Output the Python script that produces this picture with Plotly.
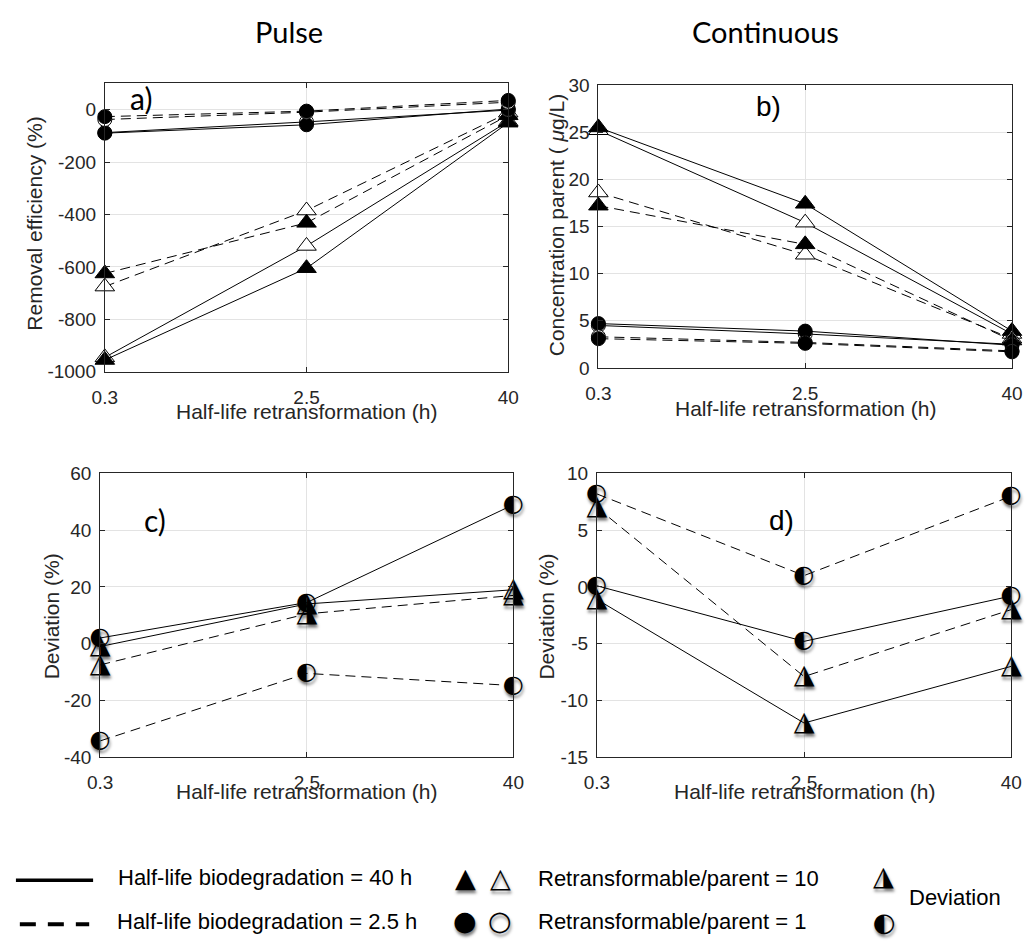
import plotly.graph_objects as go

W, H = 1035, 947

# Half-life of retransformation (h), shown as equally spaced categories
x_labels = ["0.3", "2.5", "40"]
x_pos = [0, 1, 2]

# a) Pulse: removal efficiency (%)
a_bio40_r10 = [-955, -605, -50]
a_bio40_r10_open = [-945, -520, -45]
a_bio25_r10 = [-625, -432, -22]
a_bio25_r10_open = [-675, -385, -12]
a_bio40_r1 = [-90, -58, 2]
a_bio40_r1_open = [-88, -47, -2]
a_bio25_r1 = [-27, -6, 35]
a_bio25_r1_open = [-38, -10, 28]

# b) Continuous: concentration parent (ug/L)
b_bio40_r10 = [25.5, 17.4, 3.9]
b_bio40_r10_open = [25.2, 15.4, 3.6]
b_bio25_r10 = [17.2, 13.1, 2.9]
b_bio25_r10_open = [18.6, 12.0, 3.1]
b_bio40_r1 = [4.7, 3.9, 2.4]
b_bio40_r1_open = [4.5, 3.6, 2.5]
b_bio25_r1 = [3.1, 2.6, 1.7]
b_bio25_r1_open = [3.3, 2.7, 1.8]

# c) Pulse: deviation (%)
c_bio40_r10 = [-1.0, 14.0, 19.0]
c_bio40_r1 = [2.0, 14.5, 49.0]
c_bio25_r10 = [-7.5, 10.5, 17.0]
c_bio25_r1 = [-34.3, -10.5, -14.8]

# d) Continuous: deviation (%)
d_bio40_r10 = [-1.1, -12.0, -7.0]
d_bio40_r1 = [0.1, -4.8, -0.8]
d_bio25_r10 = [7.0, -7.9, -2.0]
d_bio25_r1 = [8.2, 1.0, 8.0]

# y tick values and their labels (plain hyphen for negatives)
a_ticks = [-1000, -800, -600, -400, -200, 0]
a_tick_labels = ["-1000", "-800", "-600", "-400", "-200", "0"]
b_ticks = [0, 5, 10, 15, 20, 25, 30]
b_tick_labels = ["0", "5", "10", "15", "20", "25", "30"]
c_ticks = [-40, -20, 0, 20, 40, 60]
c_tick_labels = ["-40", "-20", "0", "20", "40", "60"]
d_ticks = [-15, -10, -5, 0, 5, 10]
d_tick_labels = ["-15", "-10", "-5", "0", "5", "10"]

AX = "#262626"
GRID = "#e3e3e3"
SANS = "Liberation Sans, Arial, Helvetica, sans-serif"
HUM = "Lato, Open Sans, sans-serif"
SYM = "DejaVu Sans"
DASH = "10px,6px"
SHADOW = "1px 3px 3px rgba(0,0,0,0.55)"

TRI_HALF = "\u25EE"
CIR_HALF = "\u25D0"
GLYPH_SIZE = {TRI_HALF: 27, CIR_HALF: 24}

fig = go.Figure()


def px_x(v):
    return v / W


def px_y(v):
    return 1 - v / H


domains = {
    1: ([94 / W, 507 / W], [px_y(370), px_y(75)]),
    2: ([599.3 / W, 1022.7 / W], [px_y(366), px_y(76.7)]),
    3: ([89.3 / W, 512.3 / W], [px_y(764), px_y(474)]),
    4: ([597.7 / W, 1022 / W], [px_y(764), px_y(474)]),
}
y_ranges = {1: [-1000, 100], 2: [0, 30], 3: [-40, 60], 4: [-15, 10]}
y_ticks = {1: (a_ticks, a_tick_labels), 2: (b_ticks, b_tick_labels),
           3: (c_ticks, c_tick_labels), 4: (d_ticks, d_tick_labels)}


def add_marked(panel, ys, dash, symbol, filled):
    xa = "x" if panel == 1 else f"x{panel}"
    ya = "y" if panel == 1 else f"y{panel}"
    fig.add_trace(go.Scatter(
        x=x_pos, y=ys, xaxis=xa, yaxis=ya, mode="lines+markers",
        line=dict(color="black", width=1, dash=dash),
        marker=dict(symbol=symbol, size=17 if symbol == "triangle-up" else 14,
                    color="black" if filled else "white",
                    line=dict(color="black", width=1)),
        cliponaxis=False, showlegend=False, hoverinfo="skip"))


def add_half(panel, ys, dash, glyph):
    xa = f"x{panel}"
    ya = f"y{panel}"
    fig.add_trace(go.Scatter(
        x=x_pos, y=ys, xaxis=xa, yaxis=ya, mode="lines",
        line=dict(color="black", width=1, dash=dash),
        cliponaxis=False, showlegend=False, hoverinfo="skip"))
    fig.add_trace(go.Scatter(
        x=x_pos, y=ys, xaxis=xa, yaxis=ya, mode="text",
        text=[glyph] * len(ys), textposition="middle center",
        textfont=dict(family=SYM, size=GLYPH_SIZE[glyph], color="black", shadow=SHADOW),
        cliponaxis=False, showlegend=False, hoverinfo="skip"))


# a)
add_marked(1, a_bio40_r10_open, "solid", "triangle-up", False)
add_marked(1, a_bio40_r10, "solid", "triangle-up", True)
add_marked(1, a_bio25_r10_open, DASH, "triangle-up", False)
add_marked(1, a_bio25_r10, DASH, "triangle-up", True)
add_marked(1, a_bio40_r1_open, "solid", "circle", False)
add_marked(1, a_bio40_r1, "solid", "circle", True)
add_marked(1, a_bio25_r1_open, DASH, "circle", False)
add_marked(1, a_bio25_r1, DASH, "circle", True)

# b)
add_marked(2, b_bio40_r10_open, "solid", "triangle-up", False)
add_marked(2, b_bio40_r10, "solid", "triangle-up", True)
add_marked(2, b_bio25_r10_open, DASH, "triangle-up", False)
add_marked(2, b_bio25_r10, DASH, "triangle-up", True)
add_marked(2, b_bio40_r1_open, "solid", "circle", False)
add_marked(2, b_bio40_r1, "solid", "circle", True)
add_marked(2, b_bio25_r1_open, DASH, "circle", False)
add_marked(2, b_bio25_r1, DASH, "circle", True)

# c)
add_half(3, c_bio25_r1, DASH, CIR_HALF)
add_half(3, c_bio25_r10, DASH, TRI_HALF)
add_half(3, c_bio40_r10, "solid", TRI_HALF)
add_half(3, c_bio40_r1, "solid", CIR_HALF)

# d)
add_half(4, d_bio40_r10, "solid", TRI_HALF)
add_half(4, d_bio25_r10, DASH, TRI_HALF)
add_half(4, d_bio40_r1, "solid", CIR_HALF)
add_half(4, d_bio25_r1, DASH, CIR_HALF)

axis_common = dict(
    showline=True, linecolor=AX, linewidth=1, mirror="ticks",
    ticks="inside", ticklen=5, tickcolor=AX, tickwidth=1,
    showgrid=True, gridcolor=GRID, gridwidth=1, zeroline=False,
    tickfont=dict(family=SANS, size=19, color=AX),
)

layout = dict(
    width=W, height=H, margin=dict(l=0, r=0, t=0, b=0),
    paper_bgcolor="white", plot_bgcolor="white", autosize=False,
)
for p in range(1, 5):
    sx = "" if p == 1 else str(p)
    xd, yd = domains[p]
    tv, tt = y_ticks[p]
    layout[f"xaxis{sx}"] = dict(
        axis_common, domain=xd, anchor=f"y{sx}", range=[0, 2],
        tickvals=x_pos, ticktext=x_labels, ticklabelstandoff=8)
    layout[f"yaxis{sx}"] = dict(
        axis_common, domain=yd, anchor=f"x{sx}", range=y_ranges[p],
        tickvals=tv, ticktext=tt, ticklabelstandoff=4)
fig.update_layout(**layout)

ann = []


def text_at(x, y, s, size, family=SANS, angle=0, xanchor="center", color=AX, shadow=None):
    f = dict(family=family, size=size, color=color)
    if shadow:
        f["shadow"] = shadow
    ann.append(dict(x=px_x(x), y=px_y(y), xref="paper", yref="paper", text=s,
                    showarrow=False, textangle=angle, xanchor=xanchor,
                    yanchor="middle", font=f))


# column titles
text_at(283, 22, "Pulse", 29, HUM, color="black")
text_at(770, 22, "Continuous", 29, HUM, color="black")

# panel tags
text_at(131, 90, "a)", 30, HUM, color="black")
text_at(773, 99, "b)", 28, SANS, color="black")
text_at(145, 522, "c)", 30, HUM, color="black")
text_at(787, 522, "d)", 28, SANS, color="black")

# axis titles
text_at(300, 411, "Half-life retransformation (h)", 21)
text_at(811, 408, "Half-life retransformation (h)", 21)
text_at(300, 799, "Half-life retransformation (h)", 21)
text_at(810, 799, "Half-life retransformation (h)", 21)
text_at(22, 218, "Removal efficiency (%)", 21, angle=-90)
text_at(556, 220, "Concentration parent ( <i>\u03bc</i>g/L)", 21, angle=-90)
text_at(39, 620, "Deviation (%)", 21, angle=-90)
text_at(546, 620, "Deviation (%)", 21, angle=-90)

# key
LEG_SHADOW = "1px 3px 3px rgba(0,0,0,0.5)"
text_at(105, 887, "Half-life biodegradation = 40 h", 22, xanchor="left", color="black")
text_at(104, 932, "Half-life biodegradation = 2.5 h", 22, xanchor="left", color="black")
text_at(535, 888, "Retransformable/parent = 10", 22, xanchor="left", color="black")
text_at(535, 932, "Retransformable/parent = 1", 22, xanchor="left", color="black")
text_at(915, 908, "Deviation", 22, xanchor="left", color="black")
text_at(463, 887, "\u25B2", 27, SYM, color="black", shadow=LEG_SHADOW)
text_at(499, 887, "\u25B3", 27, SYM, color="black", shadow=LEG_SHADOW)
text_at(463, 931, "\u25CF", 27, SYM, color="black", shadow=LEG_SHADOW)
text_at(499, 931, "\u25CB", 27, SYM, color="black", shadow=LEG_SHADOW)
text_at(891, 885, TRI_HALF, 27, SYM, color="black", shadow=LEG_SHADOW)
text_at(892, 933, CIR_HALF, 26, SYM, color="black", shadow=LEG_SHADOW)

fig.update_layout(annotations=ann)

fig.add_shape(type="line", xref="paper", yref="paper",
              x0=px_x(3), x1=px_x(82), y0=px_y(890), y1=px_y(890),
              line=dict(color="black", width=3.5))
fig.add_shape(type="line", xref="paper", yref="paper",
              x0=px_x(7), x1=px_x(78), y0=px_y(935), y1=px_y(935),
              line=dict(color="black", width=4, dash="16px,12px"))

fig.write_html("out.html")
